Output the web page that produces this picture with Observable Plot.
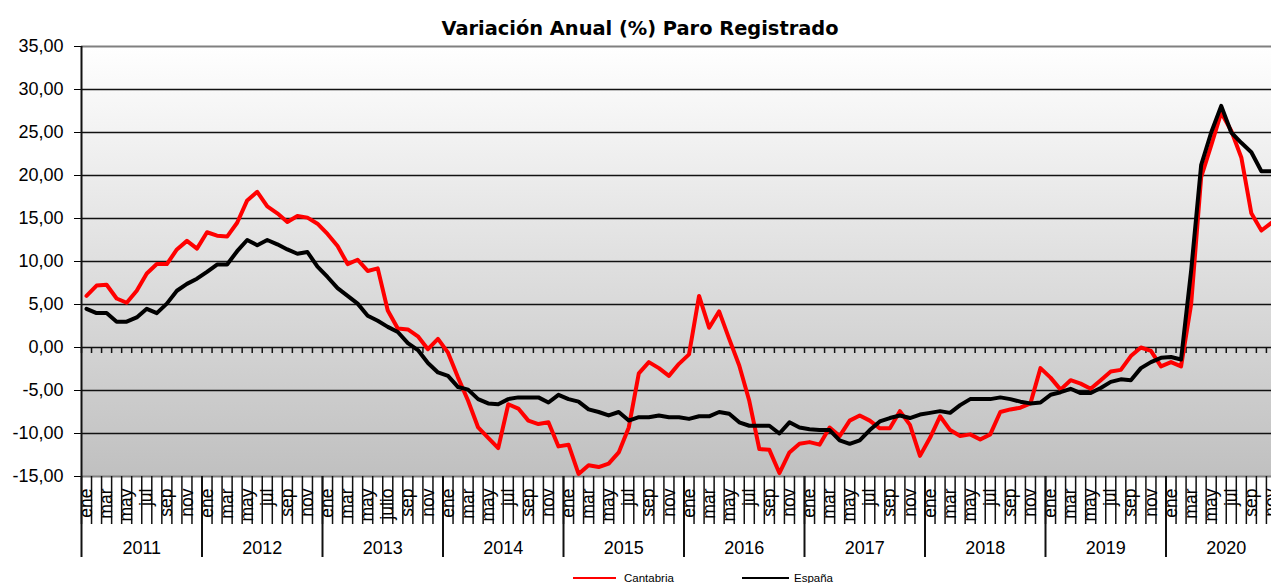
<!DOCTYPE html>
<html><head><meta charset="utf-8">
<script src="https://cdn.jsdelivr.net/npm/d3@7"></script>
<script src="https://cdn.jsdelivr.net/npm/@observablehq/plot@0.6"></script>
<style>
html,body{margin:0;padding:0;background:#fff;overflow:hidden;width:1271px;height:583px}
#wrap{position:relative;width:1271px;height:583px;overflow:hidden}
#title{position:absolute;left:0;top:19px;width:1271px;padding-left:9px;box-sizing:border-box;text-align:center;font-family:"DejaVu Sans",Verdana,sans-serif;font-weight:bold;font-size:19.4px;line-height:19px;white-space:nowrap;color:#000;z-index:2}
#chart{position:absolute;left:0;top:20px}
.leg{position:absolute;top:572px;font-family:"Liberation Sans",Arial,sans-serif;font-size:11.5px;line-height:12px;color:#000;white-space:nowrap}
.sw{position:absolute;height:2px;top:577px}
</style></head><body>
<div id="wrap">
  <div id="chart"></div>
  <div id="title">Variación Anual (%) Paro Registrado</div>
  <div class="sw" style="left:573px;width:43px;background:#ff0000"></div>
  <div class="leg" style="left:624px">Cantabria</div>
  <div class="sw" style="left:742px;width:47px;background:#000"></div>
  <div class="leg" style="left:794px">España</div>
</div>
<script>
// ---- data (monthly, ene 2011 – nov 2020) ----
const years = [2011, 2012, 2013, 2014, 2015, 2016, 2017, 2018, 2019, 2020];
const monthTicks = ["ene", "mar", "may", "jul", "sep", "nov"];
const julyLabel2013 = "julio";
const yTicks = [-15, -10, -5, 0, 5, 10, 15, 20, 25, 30, 35];

const cantabria = [
  6.0, 7.2, 7.3, 5.7, 5.2, 6.6, 8.6, 9.7, 9.7, 11.4, 12.4, 11.5,
  13.4, 13.0, 12.9, 14.5, 17.1, 18.1, 16.4, 15.6, 14.6, 15.3, 15.1, 14.4,
  13.2, 11.8, 9.7, 10.2, 8.9, 9.2, 4.3, 2.2, 2.1, 1.3, -0.2, 1.0,
  -0.6, -3.5, -6.2, -9.3, -10.5, -11.7, -6.6, -7.1, -8.5, -8.9, -8.7, -11.5,
  -11.3, -14.7, -13.7, -13.9, -13.5, -12.2, -9.3, -3.0, -1.7, -2.4, -3.3, -1.9,
  -0.8, 6.0, 2.3, 4.2, 1.0, -2.1, -6.2, -11.8, -11.9, -14.6, -12.2, -11.2,
  -11.0, -11.3, -9.3, -10.3, -8.5, -7.9, -8.5, -9.4, -9.4, -7.4, -9.0, -12.6,
  -10.5, -8.0, -9.6, -10.3, -10.1, -10.7, -10.1, -7.5, -7.2, -7.0, -6.5, -2.4,
  -3.5, -4.9, -3.8, -4.2, -4.8, -3.8, -2.8, -2.6, -1.0, 0.0, -0.4, -2.2,
  -1.7, -2.2, 5.0, 19.8, 23.5, 27.3, 25.2, 22.1, 15.6, 13.6, 14.5
];
const espana = [
  4.5, 4.0, 4.0, 3.0, 3.0, 3.5, 4.5, 4.0, 5.1, 6.6, 7.4, 8.0,
  8.8, 9.65, 9.65, 11.2, 12.5, 11.9, 12.5, 12.0, 11.4, 10.9, 11.1, 9.4,
  8.2, 6.9, 6.0, 5.1, 3.7, 3.1, 2.4, 1.8, 0.5, -0.3, -1.8, -2.9,
  -3.3, -4.6, -4.9, -6.0, -6.5, -6.6, -6.0, -5.8, -5.8, -5.8, -6.4, -5.5,
  -6.0, -6.3, -7.2, -7.5, -7.9, -7.5, -8.5, -8.1, -8.1, -7.9, -8.1, -8.1,
  -8.3, -8.0, -8.0, -7.5, -7.7, -8.7, -9.1, -9.1, -9.1, -10.0, -8.7, -9.3,
  -9.5, -9.6, -9.6, -10.8, -11.2, -10.8, -9.6, -8.6, -8.2, -7.9, -8.2, -7.8,
  -7.6, -7.4, -7.6, -6.7, -6.0, -6.0, -6.0, -5.8, -6.0, -6.3, -6.5, -6.4,
  -5.5, -5.2, -4.8, -5.3, -5.3, -4.7, -4.0, -3.7, -3.8, -2.4, -1.7, -1.2,
  -1.1, -1.4, 8.9, 21.2, 25.0, 28.1, 25.0, 23.8, 22.7, 20.5, 20.5
];

// ---- derived tables ----
const nMonths = years.length * 12;
const boundaries = d3.range(0, nMonths + 1).map(i => i - 0.5);
const yearBoundaries = d3.range(0, years.length + 1).map(k => k * 12 - 0.5);
const monthLabels = [];
years.forEach((yr, k) => monthTicks.forEach((m, j) => {
  monthLabels.push({i: k * 12 + j * 2, label: (yr === 2013 && j === 3) ? julyLabel2013 : m});
}));
const yearLabels = years.map((yr, k) => ({x: k * 12 + 5.5, label: String(yr)}));
const fmt = d => d.toFixed(2).replace(".", ",");

function background(index, scales, values, dims) {
  const ns = "http://www.w3.org/2000/svg";
  const g = document.createElementNS(ns, "g");
  const defs = document.createElementNS(ns, "defs");
  const grad = document.createElementNS(ns, "linearGradient");
  grad.setAttribute("id", "bgGrad");
  grad.setAttribute("x1", "0"); grad.setAttribute("y1", "0");
  grad.setAttribute("x2", "0"); grad.setAttribute("y2", "1");
  [["0", "#ffffff"], ["1", "#c0c0c0"]].forEach(([o, c]) => {
    const s = document.createElementNS(ns, "stop");
    s.setAttribute("offset", o); s.setAttribute("stop-color", c);
    grad.appendChild(s);
  });
  defs.appendChild(grad);
  g.appendChild(defs);
  const r = document.createElementNS(ns, "rect");
  r.setAttribute("x", dims.marginLeft);
  r.setAttribute("y", dims.marginTop);
  r.setAttribute("width", dims.width - dims.marginLeft - dims.marginRight);
  r.setAttribute("height", dims.height - dims.marginTop - dims.marginBottom);
  r.setAttribute("fill", "url(#bgGrad)");
  g.appendChild(r);
  return g;
}

const chart = Plot.plot({
  width: 1271,
  height: 545,
  marginTop: 26,
  marginBottom: 89,
  marginLeft: 81,
  marginRight: 0,
  style: {fontFamily: "'Liberation Sans', Arial, sans-serif", fontSize: "18px", color: "#000", background: "transparent", overflow: "hidden"},
  x: {type: "linear", domain: [-0.5, nMonths - 0.5], range: [81, 1286], axis: null},
  y: {domain: [-15, 35], ticks: yTicks, tickFormat: fmt, tickSize: 7, tickPadding: 11, label: null},
  marks: [
    background,
    Plot.ruleY(yTicks.filter(v => v > -15 && v < 35), {stroke: "#111", strokeWidth: 1.6}),
    Plot.ruleY([-15, 35], {stroke: "#808080", strokeWidth: 2}),
    Plot.ruleX(boundaries, {x: d => d, y1: 0, y2: 0, insetBottom: -6, stroke: "#111", strokeWidth: 1.5}),
    Plot.ruleX(boundaries, {x: d => d, y1: -15, y2: -15, insetBottom: -48, stroke: "#111", strokeWidth: 1.5}),
    Plot.ruleX(yearBoundaries, {x: d => d, y1: -15, y2: -15, insetBottom: -81, stroke: "#111", strokeWidth: 2}),
    Plot.ruleX([-0.5], {stroke: "#111", strokeWidth: 2}),
    Plot.text(monthLabels, {x: "i", y: () => -15, text: "label", rotate: -90, textAnchor: "end", dy: 12, fontSize: 17.5, fill: "#000"}),
    Plot.text(yearLabels, {x: "x", y: () => -15, text: "label", dy: 72, fontSize: 18, fill: "#000"}),
    Plot.lineY(cantabria, {x: (d, i) => i, y: d => d, stroke: "#ff0000", strokeWidth: 4, strokeLinejoin: "round"}),
    Plot.lineY(espana, {x: (d, i) => i, y: d => d, stroke: "#000", strokeWidth: 4, strokeLinejoin: "round"})
  ]
});
document.getElementById("chart").appendChild(chart);
</script>
</body></html>
